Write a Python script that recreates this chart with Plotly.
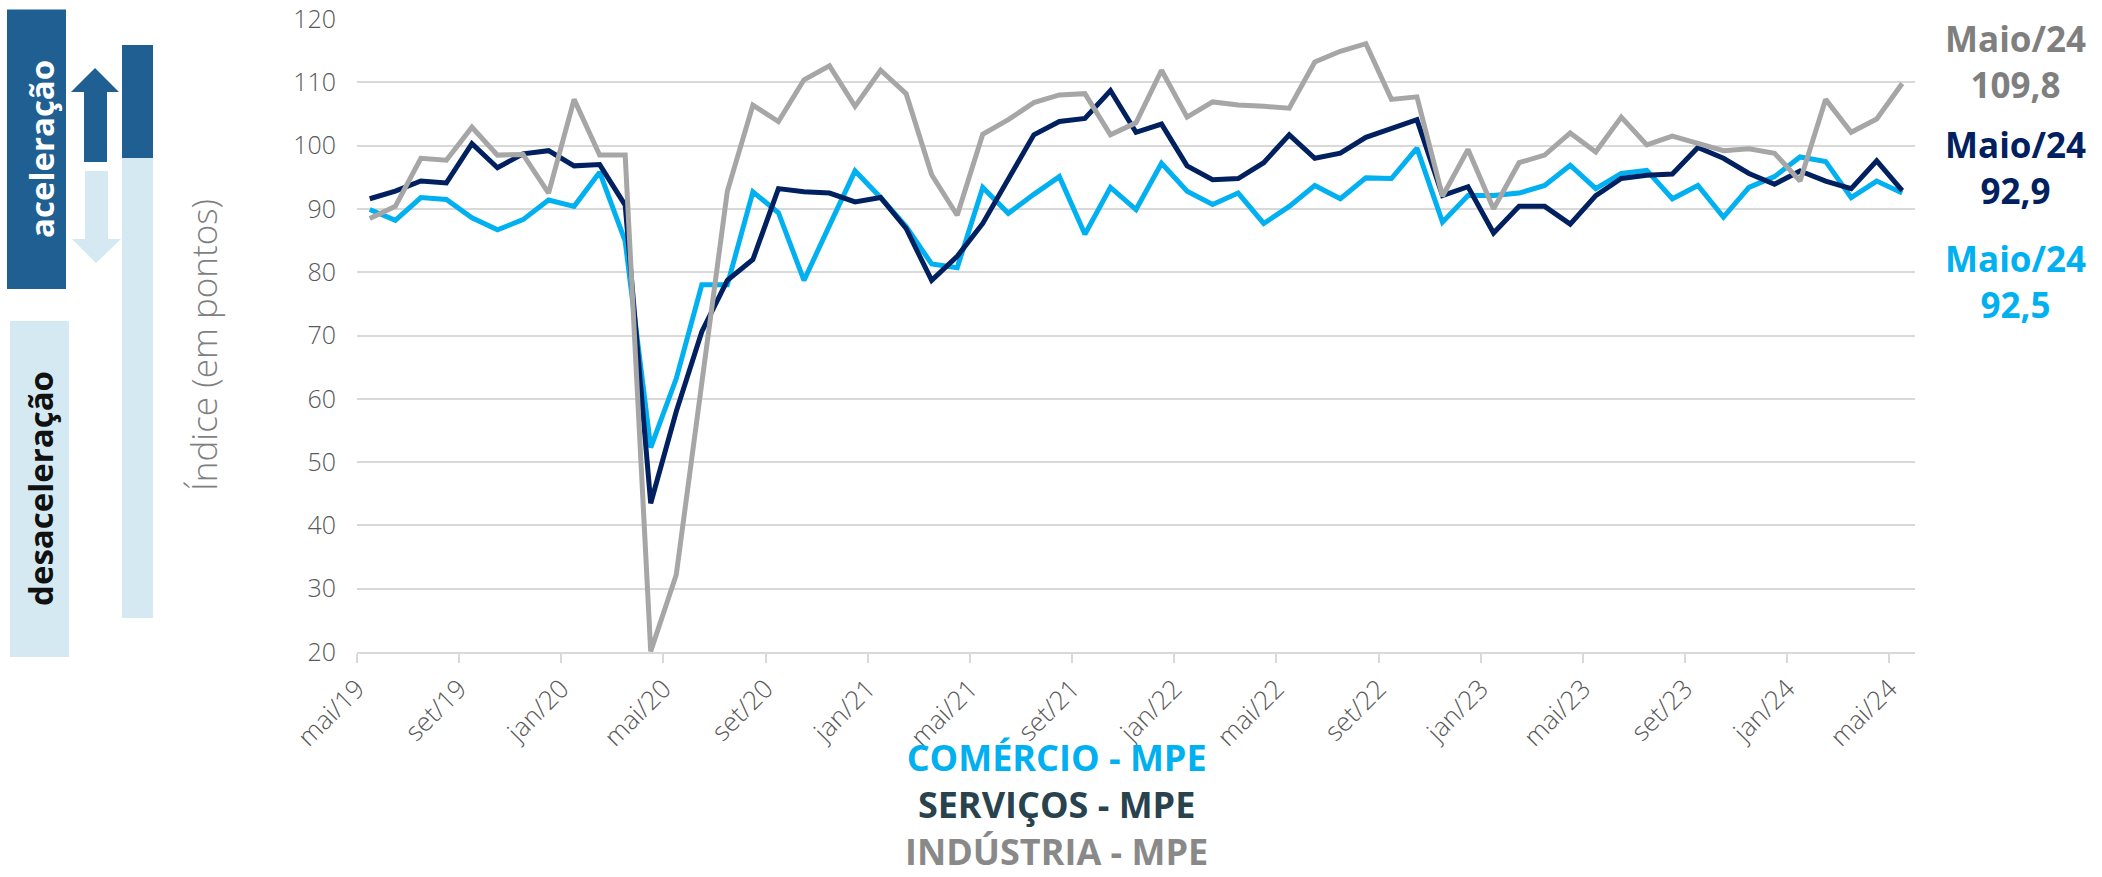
import plotly.graph_objects as go

# Monthly series, mai/2019 to mai/2024 (61 months)
MONTHS = [f"{m}/{y:02d}" for y in range(19, 25)
          for m in ["jan", "fev", "mar", "abr", "mai", "jun", "jul", "ago", "set", "out", "nov", "dez"]][4:65]

comercio = [89.9, 88.2, 91.8, 91.5, 88.6, 86.7, 88.3, 91.4, 90.4, 95.8, 84.9, 52.3,
            63.2, 78.0, 78.0, 92.7, 89.4, 78.7, 87.4, 96.0, 91.8, 87.2, 81.3, 80.7,
            93.4, 89.3, 92.3, 95.1, 86.0, 93.4, 89.9, 97.2, 92.8, 90.7, 92.5, 87.7,
            90.4, 93.7, 91.6, 94.9, 94.8, 99.6, 87.9, 92.1, 92.1, 92.5, 93.7, 96.9,
            93.2, 95.6, 96.1, 91.6, 93.7, 88.7, 93.4, 95.1, 98.2, 97.5, 91.8, 94.4,
            92.5]

servicos = [91.6, 92.8, 94.4, 94.1, 100.3, 96.5, 98.7, 99.2, 96.8, 97.0, 90.6, 43.5,
            58.0, 70.6, 78.7, 82.0, 93.2, 92.7, 92.5, 91.1, 91.8, 86.9, 78.7, 82.5,
            87.7, 94.8, 101.7, 103.8, 104.3, 108.7, 102.1, 103.4, 96.8, 94.6, 94.8, 97.3,
            101.7, 98.0, 98.8, 101.3, 102.7, 104.1, 92.1, 93.5, 86.2, 90.4, 90.4, 87.6,
            92.1, 94.8, 95.3, 95.5, 99.7, 98.0, 95.6, 93.9, 96.0, 94.4, 93.2, 97.6,
            92.9]

industria = [88.5, 90.4, 98.0, 97.7, 102.9, 98.5, 98.6, 92.5, 107.3, 98.5, 98.5, 20.1,
             32.2, 62.5, 92.8, 106.4, 103.8, 110.4, 112.6, 106.2, 111.9, 108.2, 95.4, 89.0,
             101.8, 104.1, 106.8, 108.0, 108.2, 101.7, 103.6, 111.9, 104.5, 106.9, 106.4, 106.2,
             105.9, 113.2, 114.9, 116.1, 107.3, 107.7, 92.0, 99.4, 90.0, 97.3, 98.5, 102.0,
             99.0, 104.5, 100.1, 101.5, 100.4, 99.2, 99.5, 98.8, 94.4, 107.3, 102.1, 104.2,
             109.8]

TICK_LABELS = ["mai/19", "set/19", "jan/20", "mai/20", "set/20", "jan/21", "mai/21", "set/21",
               "jan/22", "mai/22", "set/22", "jan/23", "mai/23", "set/23", "jan/24", "mai/24"]
Y_TICKS = [20, 30, 40, 50, 60, 70, 80, 90, 100, 110, 120]

C_COM = "#00B0F0"
C_SER = "#002060"
C_IND = "#A6A6A6"
DARK_BOX = "#1F5F91"
LIGHT_BOX = "#D4E9F2"

W, H = 2102, 877
ML, MR, MT, MB = 357, 187, 19, 225
PW, PH = W - ML - MR, H - MT - MB


def px(x):
    return (x - ML) / PW


def py(y):
    return (H - MB - y) / PH


x_idx = list(range(len(MONTHS)))

fig = go.Figure()
for name, vals, col in [("COMÉRCIO - MPE", comercio, C_COM),
                        ("SERVIÇOS - MPE", servicos, C_SER),
                        ("INDÚSTRIA - MPE", industria, C_IND)]:
    fig.add_trace(go.Scatter(x=x_idx, y=vals, mode="lines", name=name,
                             customdata=MONTHS, hovertemplate="%{customdata}: %{y}<extra></extra>",
                             line=dict(color=col, width=5), showlegend=False))

tick_pos = [MONTHS.index(t) - 0.5 for t in TICK_LABELS]

fig.update_xaxes(range=[-0.5, len(MONTHS) - 0.5], tickvals=tick_pos, ticktext=TICK_LABELS,
                 tickangle=-45, ticks="outside", ticklen=9, tickwidth=1.5, tickcolor="#D9D9D9",
                 showline=True, linecolor="#D9D9D9", linewidth=2, showgrid=False, zeroline=False,
                 automargin=False,
                 tickfont=dict(family="Open Sans", size=26, color="#595959", weight=300))
fig.update_yaxes(range=[20, 120], tickvals=Y_TICKS, showgrid=True, gridcolor="#D9D9D9",
                 gridwidth=1.5, zeroline=False, ticks="", ticklabelstandoff=20, automargin=False,
                 tickfont=dict(family="Open Sans", size=25, color="#595959", weight=300))


def poly(points):
    d = "M " + " L ".join(f"{px(a):.5f},{py(b):.5f}" for a, b in points) + " Z"
    return d


shapes = [
    dict(type="rect", xref="paper", yref="paper", x0=px(7), x1=px(66), y0=py(289), y1=py(9.5),
         fillcolor=DARK_BOX, line=dict(width=0)),
    dict(type="rect", xref="paper", yref="paper", x0=px(10), x1=px(69), y0=py(657), y1=py(321),
         fillcolor=LIGHT_BOX, line=dict(width=0)),
    dict(type="rect", xref="paper", yref="paper", x0=px(122), x1=px(153), y0=py(158), y1=py(45),
         fillcolor=DARK_BOX, line=dict(width=0)),
    dict(type="rect", xref="paper", yref="paper", x0=px(122), x1=px(153), y0=py(618), y1=py(158),
         fillcolor=LIGHT_BOX, line=dict(width=0)),
    dict(type="path", xref="paper", yref="paper",
         path=poly([(71, 92), (95, 68), (119, 92), (107, 92), (107, 162), (84, 162), (84, 92)]),
         fillcolor=DARK_BOX, line=dict(width=0)),
    dict(type="path", xref="paper", yref="paper",
         path=poly([(85, 171), (108, 171), (108, 239), (121, 239), (96, 263), (72, 239), (85, 239)]),
         fillcolor=LIGHT_BOX, line=dict(width=0)),
]

ann = [
    dict(text="aceleração", x=px(41), y=py(149), textangle=-90,
         font=dict(family="Open Sans", size=33, color="white", weight=700)),
    dict(text="desaceleração", x=px(40), y=py(489), textangle=-90,
         font=dict(family="Open Sans", size=33, color="#111111", weight=700)),
    dict(text="Índice (em pontos)", x=px(203), y=py(345), textangle=-90,
         font=dict(family="Open Sans", size=35, color="#7F7F7F", weight=300)),
    dict(text=(f"<span style='color:{C_COM}'>COMÉRCIO - MPE</span><br>"
               "<span style='color:#29434E'>SERVIÇOS - MPE</span><br>"
               "<span style='color:#898989'>INDÚSTRIA - MPE</span>"),
         x=px(1056), y=py(877), yanchor="bottom", borderpad=0,
         font=dict(family="Open Sans", size=36, color=C_COM, weight=700)),
]


def fmt(v):
    return f"{v:.1f}".replace(".", ",")


last_label = "Maio/" + MONTHS[-1].split("/")[1]
for vals, col, yc in [(industria, "#7F7F7F", 61),
                      (servicos, C_SER, 168),
                      (comercio, C_COM, 281)]:
    ann.append(dict(text=f"{last_label}<br>{fmt(vals[-1])}", x=px(2015), y=py(yc),
                    font=dict(family="Open Sans", size=35, color=col, weight=700)))

for a in ann:
    a.setdefault("yanchor", "middle")
    a.update(xref="paper", yref="paper", showarrow=False, xanchor="center")

fig.update_layout(width=W, height=H, margin=dict(l=ML, r=MR, t=MT, b=MB),
                  paper_bgcolor="white", plot_bgcolor="white",
                  shapes=shapes, annotations=ann, showlegend=False)

fig.write_html("out.html")
